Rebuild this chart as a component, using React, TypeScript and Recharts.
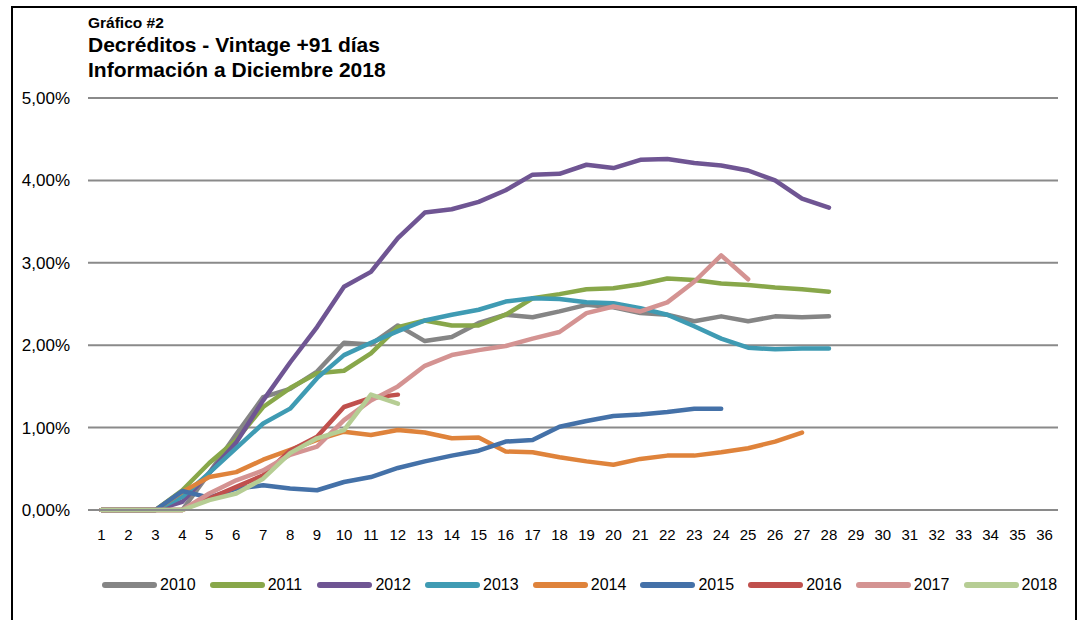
import React from "react";
import { LineChart, Line, XAxis, YAxis, CartesianGrid, Legend } from "recharts";

const months = Array.from({ length: 36 }, (_, i) => String(i + 1));
const yTicks = [0, 1, 2, 3, 4, 5];

const s2010 = [0, 0, 0, 0, 0.45, 0.92, 1.37, 1.47, 1.68, 2.03, 2.01, 2.24, 2.05, 2.1, 2.27, 2.37, 2.34, 2.41, 2.49, 2.46, 2.39, 2.37, 2.29, 2.35, 2.29, 2.35, 2.34, 2.35];
const s2011 = [0, 0, 0, 0.24, 0.57, 0.85, 1.25, 1.48, 1.66, 1.69, 1.9, 2.22, 2.3, 2.24, 2.24, 2.37, 2.57, 2.62, 2.68, 2.69, 2.74, 2.81, 2.79, 2.75, 2.73, 2.7, 2.68, 2.65];
const s2012 = [0, 0, 0, 0.1, 0.45, 0.82, 1.33, 1.79, 2.22, 2.71, 2.89, 3.3, 3.61, 3.65, 3.74, 3.88, 4.07, 4.08, 4.19, 4.15, 4.25, 4.26, 4.21, 4.18, 4.12, 4.0, 3.78, 3.67];
const s2013 = [0, 0, 0, 0.16, 0.45, 0.75, 1.05, 1.23, 1.6, 1.88, 2.03, 2.17, 2.3, 2.37, 2.43, 2.53, 2.57, 2.56, 2.52, 2.51, 2.45, 2.37, 2.23, 2.08, 1.97, 1.95, 1.96, 1.96];
const s2014 = [0, 0, 0, 0.22, 0.4, 0.46, 0.61, 0.73, 0.85, 0.95, 0.91, 0.97, 0.94, 0.87, 0.88, 0.71, 0.7, 0.64, 0.59, 0.55, 0.62, 0.66, 0.66, 0.7, 0.75, 0.83, 0.94];
const s2015 = [0, 0, 0, 0.23, 0.15, 0.26, 0.3, 0.26, 0.24, 0.34, 0.4, 0.51, 0.59, 0.66, 0.72, 0.83, 0.85, 1.01, 1.08, 1.14, 1.16, 1.19, 1.23, 1.23];
const s2016 = [0, 0, 0, 0, 0.14, 0.28, 0.42, 0.72, 0.89, 1.25, 1.36, 1.4];
const s2017 = [0, 0, 0, 0, 0.2, 0.36, 0.48, 0.67, 0.77, 1.09, 1.33, 1.5, 1.75, 1.88, 1.94, 1.99, 2.08, 2.16, 2.39, 2.47, 2.41, 2.52, 2.77, 3.09, 2.8];
const s2018 = [0, 0, 0, 0, 0.12, 0.2, 0.38, 0.69, 0.87, 0.97, 1.4, 1.29];

const seriesNames = ["2010", "2011", "2012", "2013", "2014", "2015", "2016", "2017", "2018"];
const seriesValues = [s2010, s2011, s2012, s2013, s2014, s2015, s2016, s2017, s2018];
const seriesColors = ["#858585", "#88a74a", "#6f5593", "#3f9bb3", "#df833b", "#4471a8", "#c0504d", "#d49392", "#b6cd94"];

const data = months.map((m, i) => {
  const row: Record<string, any> = { month: m };
  seriesNames.forEach((n, k) => {
    const v = seriesValues[k][i];
    if (v !== undefined) row[n] = v;
  });
  return row;
});

const fmt = (v: number) => v.toFixed(2).replace(".", ",") + "%";
const FONT = "'Liberation Sans', Arial, sans-serif";

const LegendContent = () => (
  <div style={{ display: "flex", fontFamily: FONT, fontSize: 16, color: "#000" }}>
    {seriesNames.map((n, k) => (
      <div key={n} style={{ width: 107.7, display: "flex", alignItems: "center" }}>
        <div style={{ width: 55, height: 6, borderRadius: 3, background: seriesColors[k], marginRight: 3 }} />
        <span>{n}</span>
      </div>
    ))}
  </div>
);

export default function App() {
  return (
    <div style={{ position: "absolute", left: 0, top: 0, width: 1081, height: 620, overflow: "hidden", background: "#fff" }}>
      <div style={{ position: "absolute", left: 11, top: 6, width: 1062, height: 700, border: "2px solid #000" }} />
      <div style={{ position: "absolute", left: 88, top: 14, fontFamily: FONT, fontWeight: "bold", color: "#000" }}>
        <div style={{ fontSize: 15.5, lineHeight: "18px" }}>Gráfico #2</div>
        <div style={{ fontSize: 21, lineHeight: "25px" }}>Decréditos - Vintage +91 días</div>
        <div style={{ fontSize: 21, lineHeight: "25px" }}>Información a Diciembre 2018</div>
      </div>
      <div style={{ position: "absolute", left: 0, top: 0 }}>
        <LineChart width={1081} height={620} data={data} margin={{ top: 98, right: 23, bottom: 62, left: 18 }}>
          <CartesianGrid vertical={false} stroke="#8a8a8a" strokeWidth={2} />
          <XAxis
            dataKey="month"
            interval={0}
            padding={{ left: 13.5, right: 13.5 }}
            axisLine={{ stroke: "#8a8a8a", strokeWidth: 2 }}
            tickLine={false}
            tickSize={0}
            tickMargin={19}
            height={30}
            tick={{ fill: "#000", fontSize: 15, fontFamily: FONT }}
          />
          <YAxis
            width={70}
            domain={[0, 5]}
            ticks={yTicks}
            tickFormatter={fmt}
            axisLine={false}
            tickLine={false}
            tickSize={0}
            tickMargin={18}
            tick={{ fill: "#000", fontSize: 17, fontFamily: FONT }}
          />
          <Legend
            content={<LegendContent />}
            wrapperStyle={{ position: "absolute", left: 102, top: 576, width: 970 }}
          />
          {seriesNames.map((n, k) => (
            <Line
              key={n}
              dataKey={n}
              stroke={seriesColors[k]}
              strokeWidth={4.5}
              strokeLinecap="round"
              strokeLinejoin="round"
              dot={false}
              activeDot={false}
              isAnimationActive={false}
            />
          ))}
        </LineChart>
      </div>
    </div>
  );
}
